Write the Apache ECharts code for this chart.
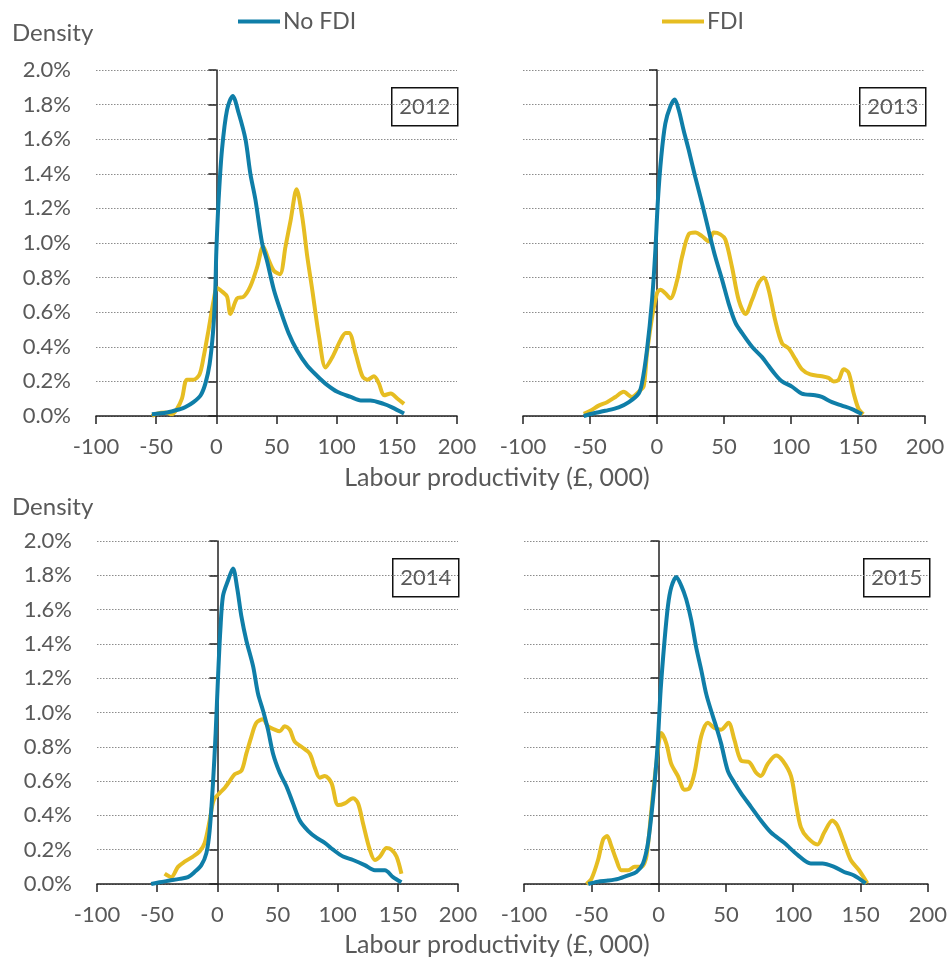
<!DOCTYPE html>
<html>
<head>
<meta charset="utf-8">
<script src="https://cdn.jsdelivr.net/npm/echarts@6/dist/echarts.min.js"></script>
<style>
html,body{margin:0;padding:0;background:#fff;}
#chart{width:950px;height:965px;}
</style>
</head>
<body>
<div id="chart"></div>
<script>
// values: [labour productivity (£000), density %]
var years=["2012","2013","2014","2015"];
var xTicks=[-100,-50,0,50,100,150,200];

var noFdi2012=[[-53.6,0.01],[-41,0.02],[-30,0.04],[-26,0.05],[-19,0.08],[-13,0.12],[-9,0.19],[-5.6,0.30],[-2.8,0.48],[-1,0.7],[0,0.95],[1.9,1.25],[4.7,1.54],[8.9,1.77],[13.6,1.85],[18.6,1.75],[24.2,1.60],[28.3,1.40],[32.5,1.25],[38,1.0],[42,0.90],[47.8,0.73],[53.3,0.61],[60,0.48],[67,0.38],[75.6,0.29],[84,0.23],[92,0.18],[100.5,0.14],[111.7,0.11],[120,0.09],[128,0.09],[139,0.07],[146,0.05],[156,0.014]];
var fdi2012=[[-53.6,0.0],[-49.4,0.014],[-42.5,0.02],[-37,0.01],[-32.8,0.04],[-28.6,0.10],[-24.4,0.21],[-19,0.21],[-14,0.24],[-10.6,0.34],[-6.4,0.50],[-2.2,0.67],[0.6,0.74],[4.7,0.72],[8.9,0.69],[11.7,0.59],[17.2,0.68],[22.8,0.69],[28.3,0.75],[33.9,0.86],[38.9,0.98],[43.6,0.90],[47.8,0.84],[52.8,0.82],[57.5,0.98],[61.7,1.13],[66.7,1.31],[71.4,1.15],[75.6,0.92],[79.7,0.73],[85.3,0.46],[90.8,0.28],[96.4,0.34],[103.3,0.44],[107.5,0.48],[110.3,0.48],[115.8,0.36],[121.4,0.23],[125.6,0.21],[131,0.23],[135,0.19],[139.4,0.12],[145,0.13],[150.6,0.10],[156,0.07]];

var noFdi2013=[[-54.7,0.0],[-48.5,0.013],[-38.6,0.03],[-28.6,0.05],[-21,0.08],[-13.7,0.13],[-11.2,0.19],[-7.5,0.38],[-3.7,0.67],[-1.2,0.96],[0.7,1.25],[3.2,1.50],[6.2,1.69],[10,1.79],[13.2,1.83],[16.2,1.77],[19.9,1.65],[23.6,1.54],[28.6,1.38],[33.6,1.23],[38.6,1.07],[43.5,0.92],[48.5,0.79],[53.5,0.65],[58.5,0.54],[63.4,0.48],[70.9,0.40],[78.4,0.34],[83.3,0.29],[88.3,0.24],[93.3,0.20],[100.7,0.17],[108,0.13],[118,0.12],[123,0.11],[130.6,0.08],[138,0.06],[145.5,0.04],[153,0.01]];
var fdi2013=[[-54.7,0.013],[-49.8,0.03],[-43.5,0.06],[-37.3,0.08],[-31,0.11],[-24.9,0.14],[-18.7,0.11],[-13.7,0.14],[-10,0.17],[-7.5,0.36],[-3.7,0.57],[0,0.71],[2.5,0.73],[6.2,0.71],[10,0.68],[14.9,0.78],[18.7,0.92],[23.6,1.05],[28.6,1.06],[33.6,1.04],[38.6,1.01],[42.3,1.06],[47.3,1.05],[51,1.02],[56,0.86],[61,0.67],[66,0.59],[70.9,0.67],[75.9,0.77],[79.6,0.80],[83.3,0.73],[88.3,0.55],[93.3,0.42],[98.3,0.39],[103.2,0.33],[108.2,0.27],[114.4,0.24],[123,0.23],[128,0.22],[131.8,0.20],[135.6,0.21],[139.3,0.27],[143,0.25],[146.8,0.13],[150.5,0.04],[154,0.01]];

var noFdi2014=[[-55,0.0],[-48,0.01],[-39.6,0.02],[-31.3,0.03],[-24.4,0.04],[-18.9,0.07],[-13.3,0.11],[-9.1,0.18],[-6.4,0.31],[-3.6,0.59],[-1.4,0.88],[0.6,1.21],[2.5,1.48],[4.7,1.68],[8.9,1.77],[13,1.84],[16.4,1.73],[20,1.56],[24.1,1.42],[29.7,1.27],[33.8,1.11],[38,1.01],[42.1,0.90],[46.3,0.76],[51.8,0.65],[57.4,0.57],[62.9,0.47],[68.5,0.37],[75.4,0.31],[82.3,0.27],[89.3,0.24],[96.2,0.20],[104.5,0.16],[112.8,0.14],[122.5,0.11],[130.9,0.08],[139.2,0.08],[146,0.04],[153,0.01]];
var fdi2014=[[-43.8,0.06],[-38.3,0.04],[-32.7,0.10],[-27.2,0.13],[-20.2,0.16],[-14.7,0.19],[-10.5,0.24],[-6.4,0.37],[-3,0.49],[1.9,0.53],[6.1,0.56],[10.3,0.60],[14.4,0.64],[20,0.66],[24.1,0.76],[28.3,0.86],[32.4,0.94],[38,0.96],[42.1,0.92],[47.7,0.90],[51.8,0.89],[56,0.92],[60.2,0.90],[64.3,0.83],[69.9,0.80],[76.8,0.76],[80.9,0.68],[85.1,0.62],[89.3,0.63],[94.8,0.59],[100.4,0.46],[105.9,0.47],[112.8,0.50],[117,0.47],[121.2,0.35],[126.7,0.20],[130.9,0.14],[135.1,0.16],[140.6,0.21],[144.7,0.20],[148.9,0.16],[153,0.06]];

var noFdi2015=[[-52.3,0.0],[-45,0.014],[-37.5,0.02],[-30,0.03],[-22.7,0.05],[-16.5,0.07],[-11.6,0.12],[-7.9,0.24],[-4.2,0.49],[-1,0.78],[1.5,1.13],[4.4,1.42],[6.9,1.62],[9.4,1.73],[13.1,1.79],[16.8,1.74],[20.5,1.66],[24.2,1.54],[27.9,1.38],[31.6,1.25],[35.3,1.11],[39,1.01],[42.7,0.92],[46.4,0.82],[51.4,0.66],[56.3,0.59],[61.2,0.53],[68.6,0.45],[76,0.37],[83.5,0.30],[93.3,0.24],[103.2,0.17],[113,0.12],[121.7,0.12],[130.4,0.10],[137.8,0.07],[145.2,0.05],[153.8,0.004]];
var fdi2015=[[-53.6,0.0],[-49.9,0.03],[-45,0.14],[-41.2,0.26],[-38.3,0.28],[-35.1,0.22],[-31.4,0.14],[-27.7,0.08],[-22.7,0.08],[-17.8,0.10],[-12.8,0.10],[-9.1,0.16],[-5.4,0.43],[-1.7,0.70],[2,0.88],[5.7,0.82],[9.4,0.70],[14.3,0.63],[19.3,0.55],[23,0.56],[26.7,0.65],[31.6,0.86],[36.5,0.94],[41.5,0.91],[46.4,0.90],[51.9,0.94],[56.3,0.84],[61.2,0.72],[67.4,0.71],[72.3,0.65],[76,0.63],[81,0.70],[87.2,0.75],[92.1,0.72],[98.3,0.63],[102,0.47],[105.7,0.33],[110.6,0.27],[118,0.23],[123,0.30],[129.1,0.37],[132.8,0.34],[137.8,0.24],[142.7,0.14],[148.9,0.08],[155,0.004]];

var noFdiSets=[noFdi2012,noFdi2013,noFdi2014,noFdi2015];
var fdiSets=[fdi2012,fdi2013,fdi2014,fdi2015];

var BLUE="#0f7ea8", GOLD="#e6bd22", TXT="#595959", AXIS="#222";
var FONT="Lato";

// panel boxes (left, top, width, height)
var panels=[
	{left:96,top:70,width:361,height:346,labels:true},
	{left:523,top:70,width:402,height:346,labels:false},
	{left:97,top:541,width:361,height:343,labels:true},
	{left:524,top:541,width:405,height:343,labels:false}
];

var grids=[],xAxes=[],yAxes=[],series=[],graphics=[];
panels.forEach(function(p,i){
	grids.push({left:p.left,top:p.top,width:p.width,height:p.height,containLabel:false});
	xAxes.push({
		type:'value',gridIndex:i,min:xTicks[0],max:xTicks[xTicks.length-1],interval:50,
		axisLine:{show:true,onZero:false,lineStyle:{color:AXIS,width:1.5}},
		axisTick:{show:true,length:8,lineStyle:{color:AXIS,width:1.5}},
		axisLabel:{color:TXT,fontSize:22,fontFamily:FONT,margin:20},
		splitLine:{show:false}
	});
	// labels + dotted gridlines
	yAxes.push({
		type:'value',gridIndex:i,min:0,max:2,interval:0.2,position:'left',
		axisLine:{show:false,onZero:false},axisTick:{show:false},
		axisLabel:{show:p.labels,color:TXT,fontSize:22,fontFamily:FONT,margin:25,
			formatter:function(v){return v.toFixed(1)+'%';}},
		splitLine:{show:true,lineStyle:{color:'#8c8c8c',type:[1.5,1.5],width:1}}
	});
	// vertical axis line at x = 0
	yAxes.push({
		type:'value',gridIndex:i,min:0,max:2,interval:0.2,position:'left',
		axisLine:{show:true,onZero:true,onZeroAxisIndex:i,lineStyle:{color:AXIS,width:1.5}},
		axisTick:{show:true,length:8,lineStyle:{color:AXIS,width:1.5}},
		axisLabel:{show:false},splitLine:{show:false}
	});
	series.push({
		name:'No FDI',type:'line',xAxisIndex:i,yAxisIndex:i*2,data:noFdiSets[i],
		showSymbol:false,smooth:0.3,lineStyle:{color:BLUE,width:4},itemStyle:{color:BLUE},z:3
	});
	series.push({
		name:'FDI',type:'line',xAxisIndex:i,yAxisIndex:i*2,data:fdiSets[i],
		showSymbol:false,smooth:0.3,lineStyle:{color:GOLD,width:4},itemStyle:{color:GOLD},z:2
	});
	// year box in top-right corner
	graphics.push({
		type:'group',left:p.left+p.width-66,top:p.top+17,
		children:[
			{type:'rect',shape:{x:0,y:0,width:66,height:38},style:{fill:'#fff',stroke:'#111',lineWidth:1.5}},
			{type:'text',x:33,y:19,style:{text:years[i],fontSize:22,fontFamily:FONT,fill:TXT,align:'center',verticalAlign:'middle'}}
		]
	});
});

graphics.push({type:'text',left:12,top:21,style:{text:'Density',fontSize:24,fontFamily:FONT,fill:TXT}});
graphics.push({type:'text',left:12,top:495,style:{text:'Density',fontSize:24,fontFamily:FONT,fill:TXT}});
graphics.push({type:'text',x:497,y:478,style:{text:'Labour productivity (£, 000)',fontSize:25,fontFamily:FONT,fill:TXT,align:'center',verticalAlign:'middle'}});
graphics.push({type:'text',x:497,y:945,style:{text:'Labour productivity (£, 000)',fontSize:25,fontFamily:FONT,fill:TXT,align:'center',verticalAlign:'middle'}});

var chart=echarts.init(document.getElementById('chart'));
chart.setOption({
	animation:false,
	backgroundColor:'#fff',
	legend:[
		{data:['No FDI'],left:238,top:10,padding:0,icon:'rect',itemWidth:42,itemHeight:4,itemGap:0,
			textStyle:{color:TXT,fontSize:23,fontFamily:FONT,padding:[0,0,0,-2]}},
		{data:['FDI'],left:662,top:10,padding:0,icon:'rect',itemWidth:42,itemHeight:4,itemGap:0,
			textStyle:{color:TXT,fontSize:23,fontFamily:FONT,padding:[0,0,0,-2]}}
	],
	grid:grids,
	xAxis:xAxes,
	yAxis:yAxes,
	series:series,
	graphic:graphics
});
</script>
</body>
</html>
